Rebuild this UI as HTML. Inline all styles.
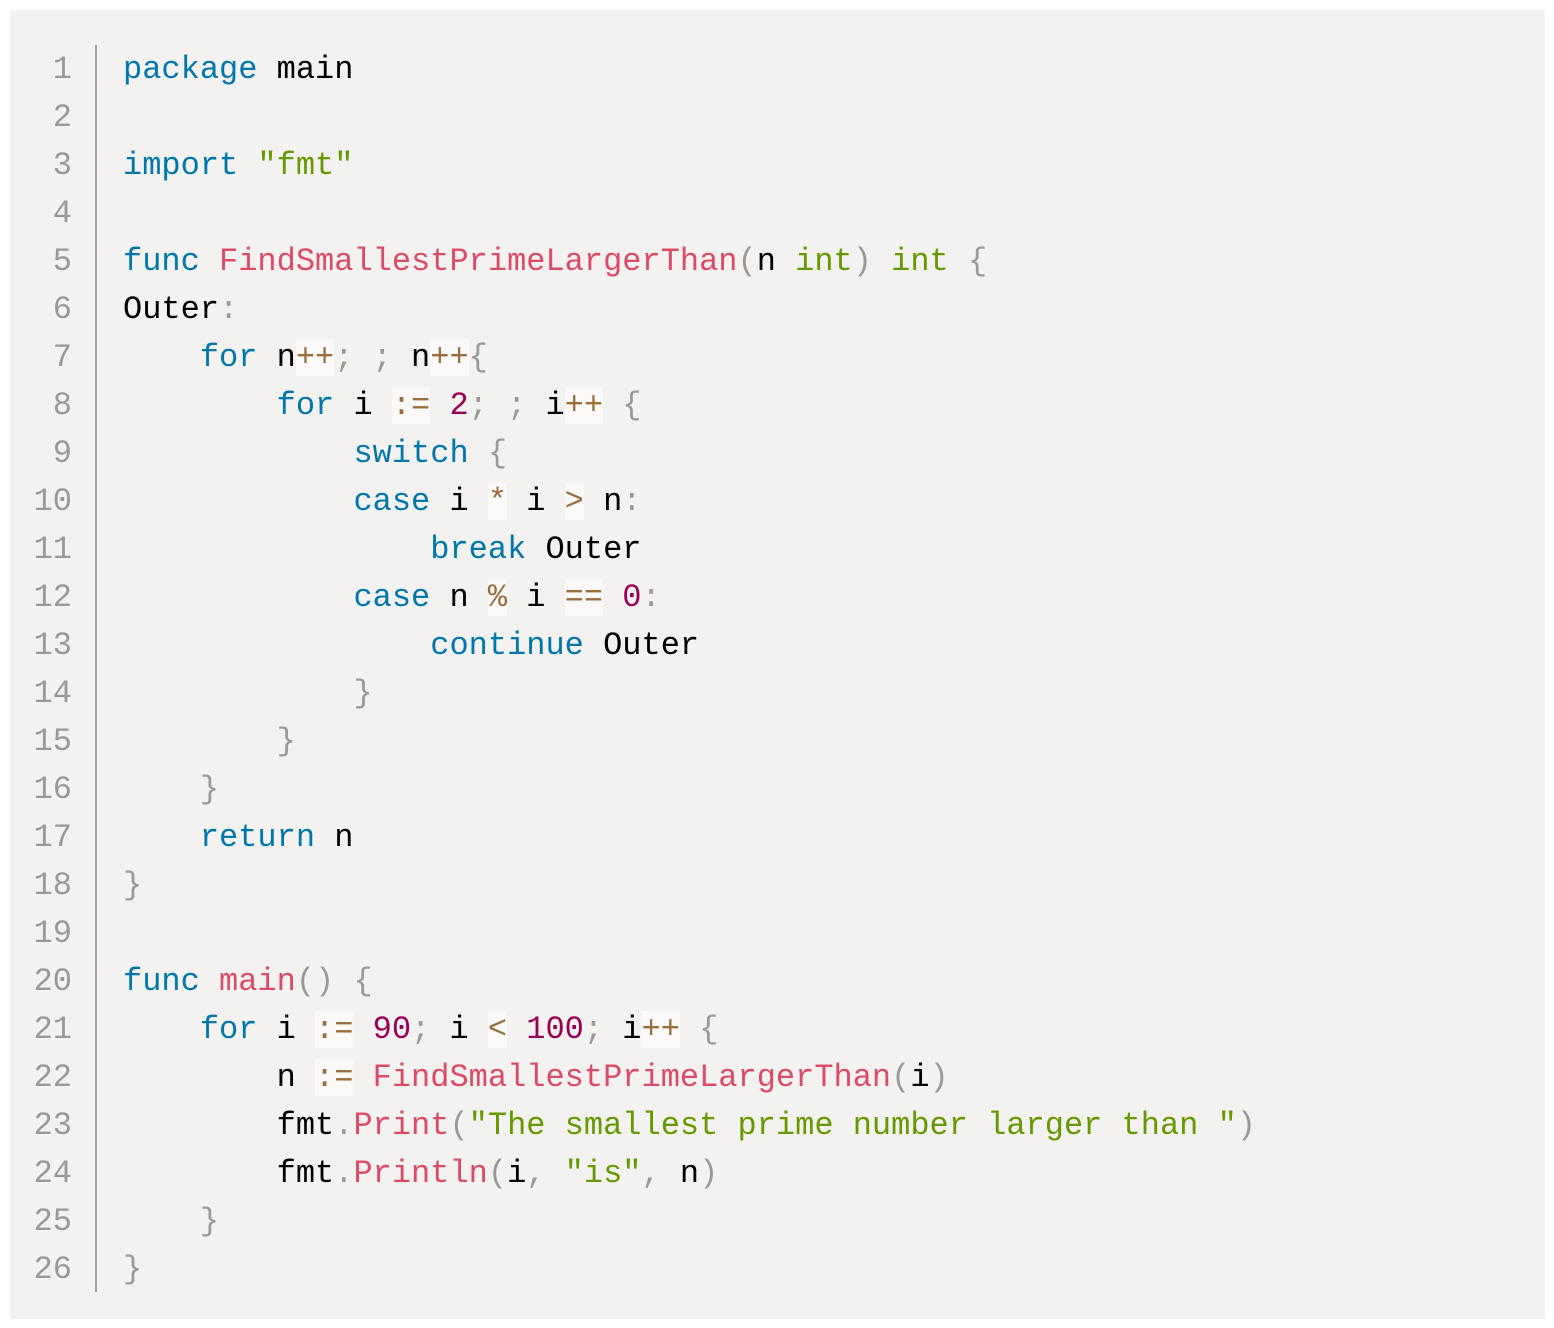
<!DOCTYPE html>
<html><head><meta charset="utf-8"><style>
html,body{margin:0;padding:0;background:#fff;width:1554px;height:1328px;overflow:hidden}
.box{position:absolute;left:10px;top:10px;width:1535px;height:1309px;background:#f3f2f0}
.sep{position:absolute;left:95px;top:45px;width:2px;height:1247px;background:#a0a0a0}
.nums,.code{position:absolute;top:46px;font-family:"Liberation Mono",monospace;font-size:32px;line-height:48px;white-space:pre;margin:0}
.nums{left:20px;width:52px;text-align:right;color:#999}
.code{left:123px;color:#000}
.k{color:#0077aa}.f{color:#dd4a68}.s{color:#669900}.n{color:#990055}.p{color:#999}
.o{color:#9a6e3a;background:rgba(255,255,255,.55)}
</style></head><body>
<div class="box"></div><div class="sep"></div>
<pre class="nums">1
2
3
4
5
6
7
8
9
10
11
12
13
14
15
16
17
18
19
20
21
22
23
24
25
26</pre>
<pre class="code"><span class="k">package</span> main

<span class="k">import</span> <span class="s">"fmt"</span>

<span class="k">func</span> <span class="f">FindSmallestPrimeLargerThan</span><span class="p">(</span>n <span class="s">int</span><span class="p">)</span> <span class="s">int</span> <span class="p">{</span>
Outer<span class="p">:</span>
    <span class="k">for</span> n<span class="o">++</span><span class="p">;</span> <span class="p">;</span> n<span class="o">++</span><span class="p">{</span>
        <span class="k">for</span> i <span class="o">:=</span> <span class="n">2</span><span class="p">;</span> <span class="p">;</span> i<span class="o">++</span> <span class="p">{</span>
            <span class="k">switch</span> <span class="p">{</span>
            <span class="k">case</span> i <span class="o">*</span> i <span class="o">&gt;</span> n<span class="p">:</span>
                <span class="k">break</span> Outer
            <span class="k">case</span> n <span class="o">%</span> i <span class="o">==</span> <span class="n">0</span><span class="p">:</span>
                <span class="k">continue</span> Outer
            <span class="p">}</span>
        <span class="p">}</span>
    <span class="p">}</span>
    <span class="k">return</span> n
<span class="p">}</span>

<span class="k">func</span> <span class="f">main</span><span class="p">()</span> <span class="p">{</span>
    <span class="k">for</span> i <span class="o">:=</span> <span class="n">90</span><span class="p">;</span> i <span class="o">&lt;</span> <span class="n">100</span><span class="p">;</span> i<span class="o">++</span> <span class="p">{</span>
        n <span class="o">:=</span> <span class="f">FindSmallestPrimeLargerThan</span><span class="p">(</span>i<span class="p">)</span>
        fmt<span class="p">.</span><span class="f">Print</span><span class="p">(</span><span class="s">"The smallest prime number larger than "</span><span class="p">)</span>
        fmt<span class="p">.</span><span class="f">Println</span><span class="p">(</span>i<span class="p">,</span> <span class="s">"is"</span><span class="p">,</span> n<span class="p">)</span>
    <span class="p">}</span>
<span class="p">}</span></pre>
</body></html>
